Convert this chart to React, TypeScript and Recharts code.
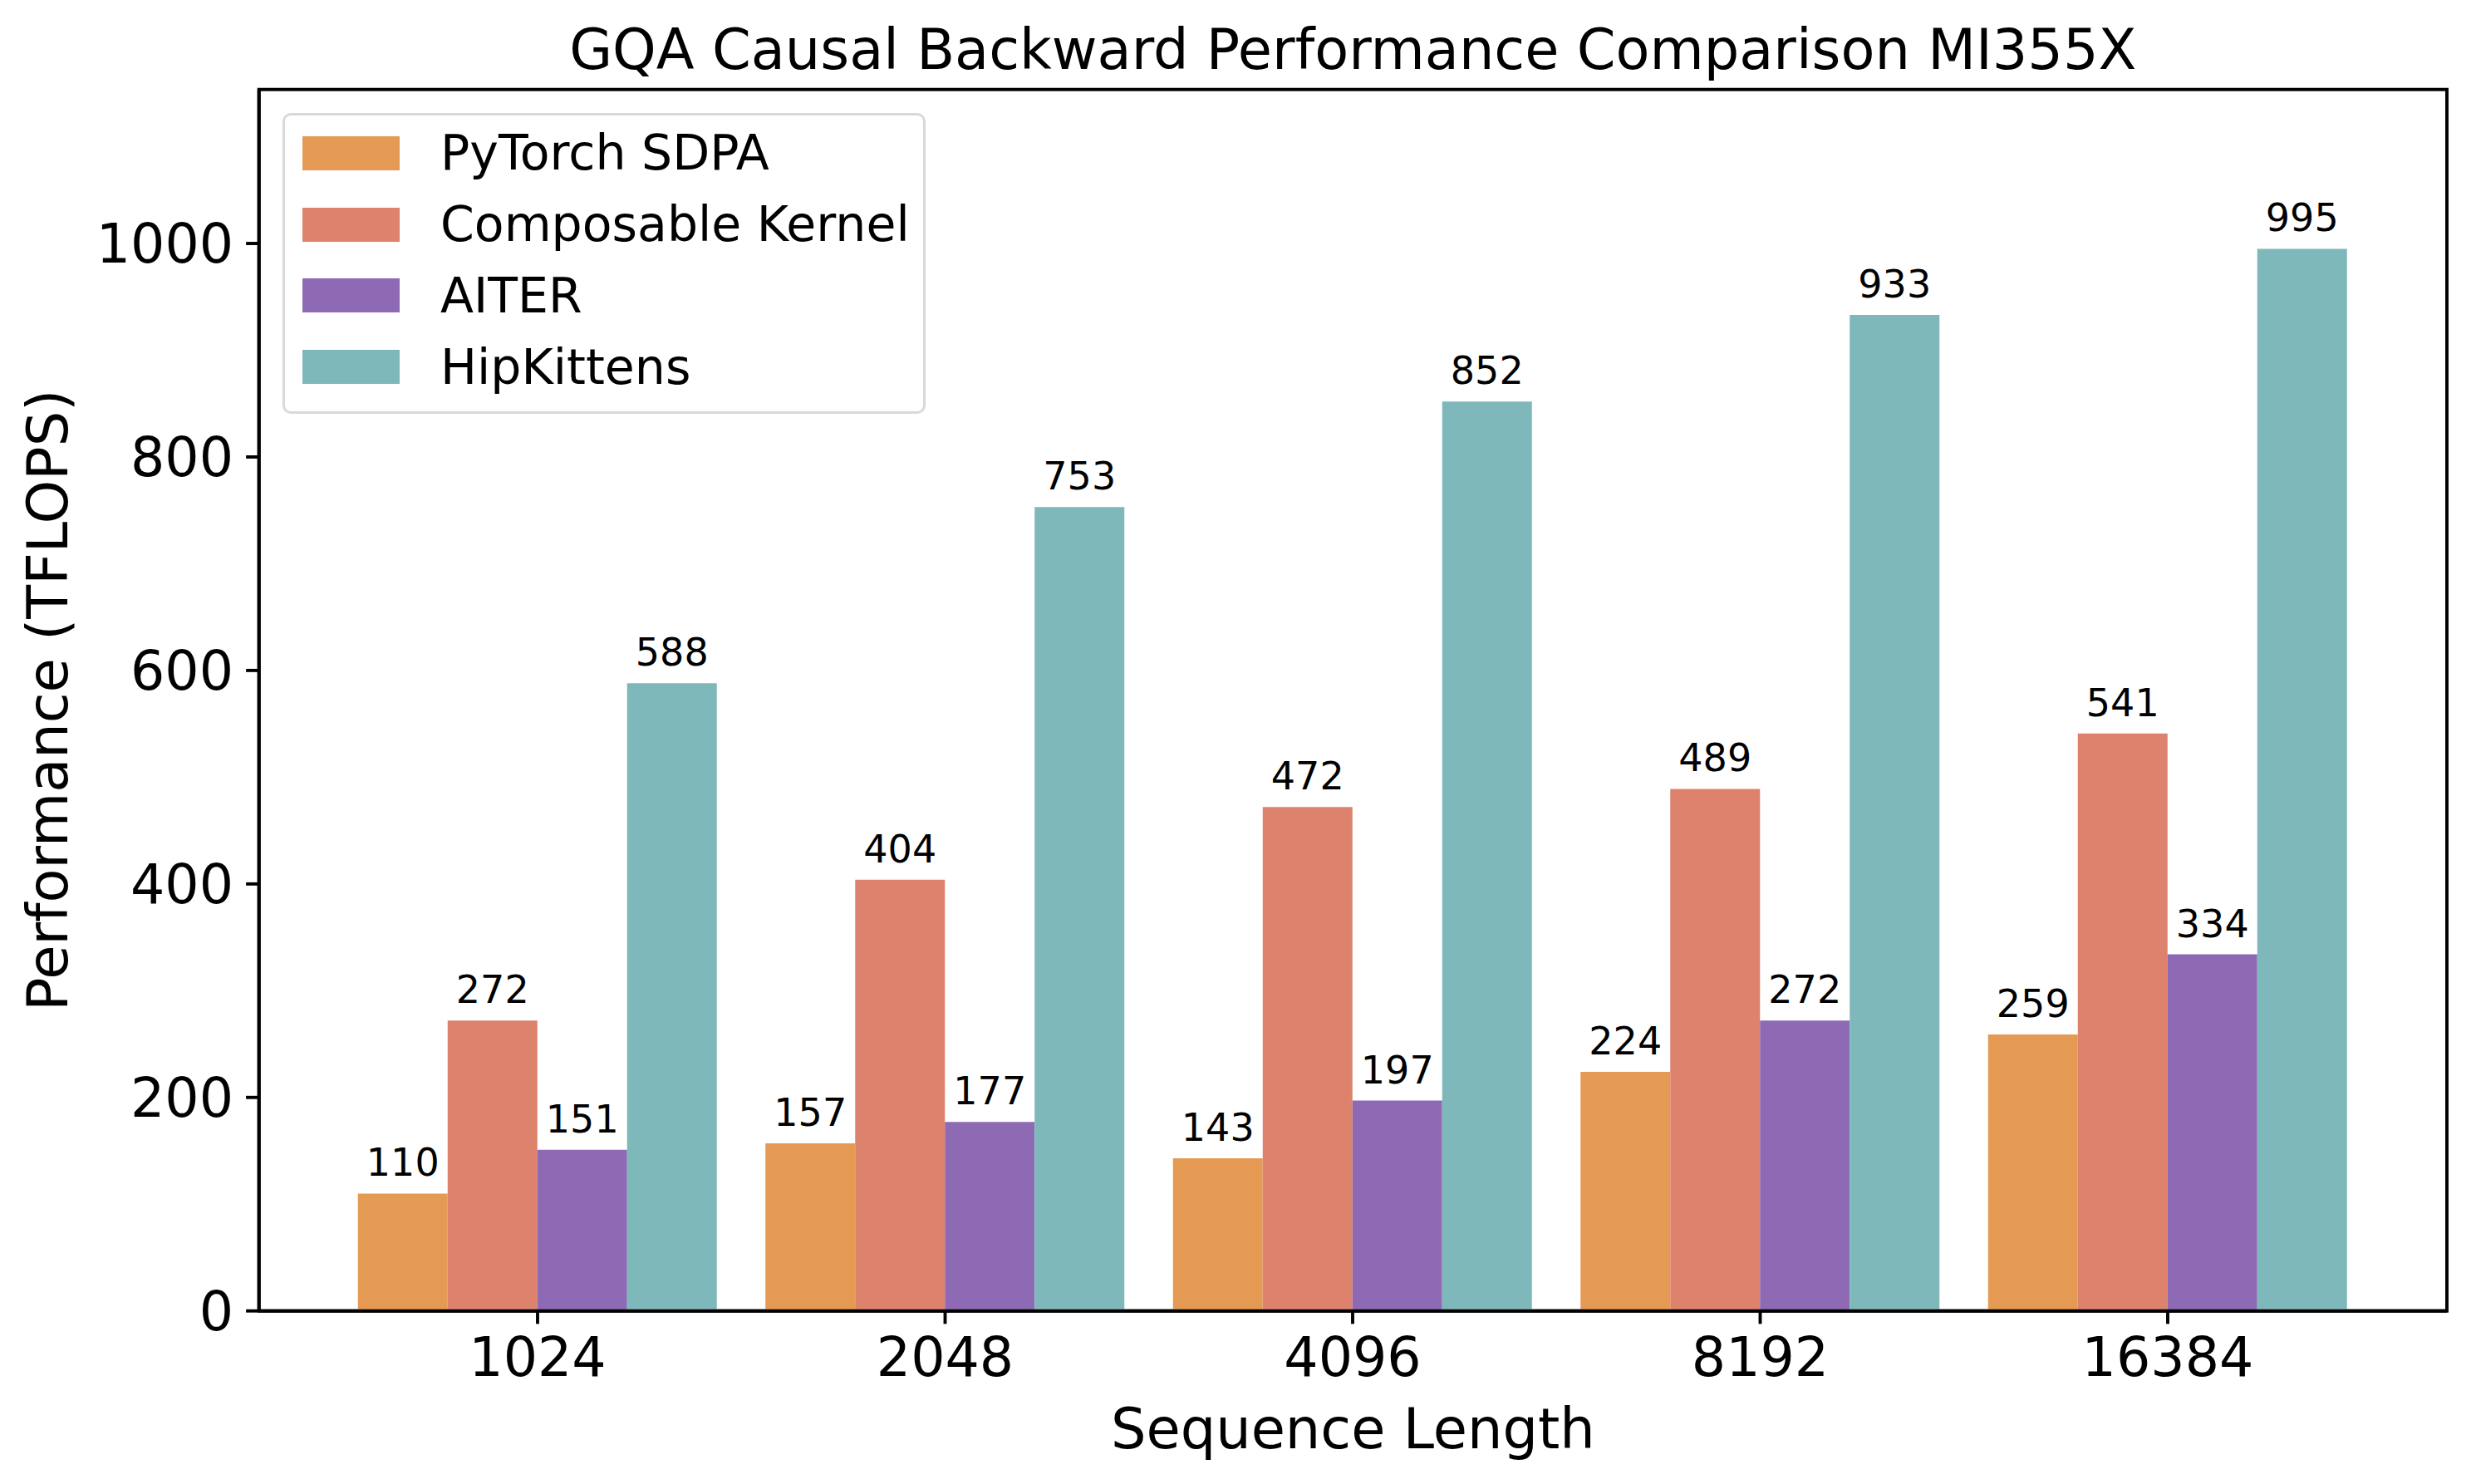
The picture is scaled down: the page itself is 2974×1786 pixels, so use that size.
import React from "react";
import { Bar, BarChart, LabelList, Label, Legend, ReferenceArea, XAxis, YAxis } from "recharts";

const seqLengths = ["1024", "2048", "4096", "8192", "16384"];
const pytorchSdpa = [110, 157, 143, 224, 259];
const composableKernel = [272, 404, 472, 489, 541];
const aiter = [151, 177, 197, 272, 334];
const hipKittens = [588, 753, 852, 933, 995];
const yTicks = [0, 200, 400, 600, 800, 1000];
const yMax = 1144.25;

const seriesNames = ["PyTorch SDPA", "Composable Kernel", "AITER", "HipKittens"];
const seriesKeys = ["sdpa", "ck", "aiter", "hk"];
const seriesColors = ["#e59a54", "#dd826c", "#8e6ab5", "#7eb8bb"];

const data = seqLengths.map((name, i) => ({
  name,
  sdpa: pytorchSdpa[i],
  ck: composableKernel[i],
  aiter: aiter[i],
  hk: hipKittens[i],
}));

const FONT = "'DejaVu Sans', sans-serif";
const PAD_L = 90.05;
const PAD_R = 90.75;

// title sits above the plot frame
const TitleLabel = ({ viewBox }: any) => (
  <text
    x={viewBox.x - PAD_L + (viewBox.width + PAD_L + PAD_R) / 2}
    y={viewBox.y - 24.4}
    textAnchor="middle"
    fontSize={67}
    fontFamily={FONT}
    fill="#000"
  >
    GQA Causal Backward Performance Comparison MI355X
  </text>
);

// the reference area spans the padded range, so widen it to the full plot box
const FrameShape = (props: any) => (
  <rect
    x={props.x - PAD_L}
    y={props.y}
    width={props.width + PAD_L + PAD_R}
    height={props.height}
    fill="none"
    stroke="#000"
    strokeWidth={3.9}
  />
);

const XTitle = ({ viewBox }: any) => (
  <text
    x={viewBox.x + viewBox.width / 2}
    y={viewBox.y + 165}
    textAnchor="middle"
    fontSize={67}
    fontFamily={FONT}
    fill="#000"
  >
    Sequence Length
  </text>
);

const YTitle = ({ viewBox }: any) => {
  const x = viewBox.x - 30.7;
  const y = viewBox.y + viewBox.height / 2;
  return (
    <text
      x={x}
      y={y}
      transform={`rotate(-90, ${x}, ${y})`}
      textAnchor="middle"
      fontSize={67}
      fontFamily={FONT}
      fill="#000"
    >
      Performance (TFLOPS)
    </text>
  );
};

const LegendBox = () => (
  <div
    style={{
      width: 774,
      height: 362,
      boxSizing: "border-box",
      border: "3px solid #d9d9d9",
      borderRadius: 10,
      background: "#fff",
      position: "relative",
      fontFamily: FONT,
    }}
  >
    {seriesNames.map((n, i) => (
      <div
        key={n}
        style={{
          position: "absolute",
          left: 21,
          top: 25.3 + i * 85.7,
          height: 41,
          display: "flex",
          alignItems: "center",
        }}
      >
        <div style={{ width: 117, height: 41, background: seriesColors[i] }} />
        <span style={{ marginLeft: 49, fontSize: 58.5, whiteSpace: "nowrap", color: "#000" }}>{n}</span>
      </div>
    ))}
  </div>
);

const App = () => {
  return (
    <div style={{ position: "absolute", left: 0, top: 0, width: 2974, height: 1786, background: "#fff" }}>
      <BarChart
        width={2974}
        height={1786}
        data={data}
        margin={{ top: 107.7, right: 29, bottom: 58.3, left: 111.7 }}
        barGap={0}
        barSize={108}
      >
        <XAxis
          dataKey="name"
          height={150}
          padding={{ left: PAD_L, right: PAD_R }}
          stroke="#000"
          axisLine={{ stroke: "#000", strokeWidth: 3.9 }}
          tickLine={{ stroke: "#000", strokeWidth: 3.9 }}
          tickSize={15.6}
          tickMargin={16.7}
          tick={{ fill: "#000", fontSize: 65, fontFamily: FONT }}
          label={<Label content={XTitle} />}
        />
        <YAxis
          width={200}
          domain={[0, yMax]}
          ticks={yTicks}
          allowDataOverflow
          axisLine={{ stroke: "#000", strokeWidth: 3.9 }}
          tickLine={{ stroke: "#000", strokeWidth: 3.9 }}
          tickSize={15.6}
          tickMargin={15}
          tick={{ fill: "#000", fontSize: 65, fontFamily: FONT }}
          label={<Label content={YTitle} />}
        />
        <Legend
          layout="vertical"
          align="center"
          verticalAlign="middle"
          content={LegendBox}
          wrapperStyle={{ left: 340, top: 135.7, width: 774, height: 362 }}
        />
        {seriesKeys.map((k, i) => (
          <Bar key={k} dataKey={k} name={seriesNames[i]} fill={seriesColors[i]} isAnimationActive={false}>
            <LabelList
              dataKey={k}
              position="top"
              offset={21}
              fill="#000"
              fontSize={46}
              fontFamily={FONT}
            />
          </Bar>
        ))}
        <ReferenceArea
          y1={0}
          y2={yMax}
          ifOverflow="visible"
          shape={FrameShape}
          label={<Label content={TitleLabel} />}
        />
      </BarChart>
    </div>
  );
};

export default App;
